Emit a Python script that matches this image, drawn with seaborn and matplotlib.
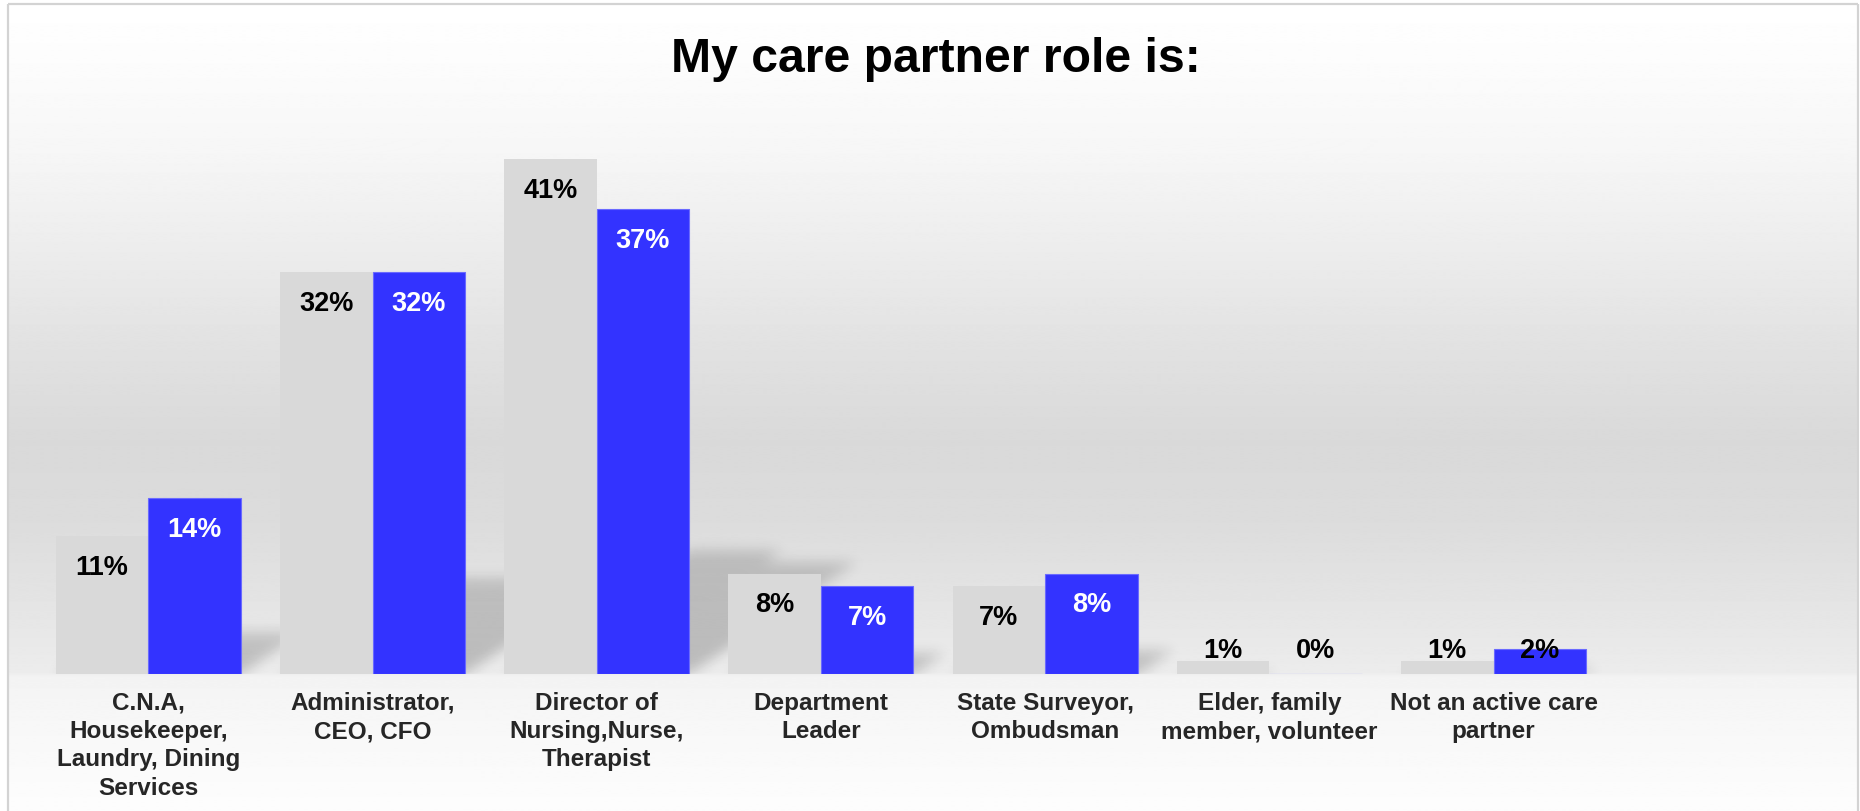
import numpy as np
import pandas as pd
import matplotlib
matplotlib.use("Agg")
import matplotlib.pyplot as plt
import seaborn as sns

# ---- data -------------------------------------------------------------
title = "My care partner role is:"
categories = [
    "C.N.A,\nHousekeeper,\nLaundry, Dining\nServices",
    "Administrator,\nCEO, CFO",
    "Director of\nNursing,Nurse,\nTherapist",
    "Department\nLeader",
    "State Surveyor,\nOmbudsman",
    "Elder, family\nmember, volunteer",
    "Not an active care\npartner",
]
series_names = ["Series 1", "Series 2"]
series1_pct = [11, 32, 41, 8, 7, 1, 1]
series2_pct = [14, 32, 37, 7, 8, 0, 2]
value_labels1 = ["11%", "32%", "41%", "8%", "7%", "1%", "1%"]
value_labels2 = ["14%", "32%", "37%", "7%", "8%", "0%", "2%"]

# ---- style ------------------------------------------------------------
sns.set_style("white")
plt.rcParams["font.family"] = ["Liberation Sans", "DejaVu Sans"]

GREY = "#d9d9d9"
BLUE = "#3333ff"
W, H = 1860, 812
BASE_PX = 675            # baseline row in figure pixels (from top)
PX_PER_PCT = 12.56       # vertical pixels per percentage point
C0_PX, PITCH_PX = 148.3, 224.2

df = pd.DataFrame({
    "role": categories * 2,
    "series": [series_names[0]] * len(categories) + [series_names[1]] * len(categories),
    "pct": series1_pct + series2_pct,
})

fig = plt.figure(figsize=(W / 100, H / 100), dpi=100)

# ---- background: framed vertical gradient ------------------------------
bg = fig.add_axes([0, 0, 1, 1])
bg.set_zorder(0)
bg.set_xlim(0, W)
bg.set_ylim(H, 0)
bg.axis("off")
rows = np.arange(H)
stops_y = [0, 60, 150, 250, 350, 440, 520, 600, 672, 677, 720, 812]
stops_v = [255, 252, 246, 236, 225, 217, 220, 228, 236, 243, 247, 253]
grad = np.interp(rows, stops_y, stops_v) / 255.0
img = np.repeat(grad[:, None], 2, axis=1)
bg.imshow(img, cmap="gray", vmin=0, vmax=1, extent=(8, 1858, H, 5),
          aspect="auto", interpolation="bilinear")
for xs, ys in [((8, 8), (5, H)), ((8, 1858), (5, 5)), ((1858, 1858), (5, H))]:
    bg.plot(xs, ys, color="#d3d3d3", lw=1.6, solid_capstyle="butt")

# ---- main bar axes ----------------------------------------------------
ax = fig.add_axes([0, (H - BASE_PX) / H, 1, BASE_PX / H])
ax.set_zorder(1)
ax.patch.set_visible(False)

sns.barplot(data=df, x="role", y="pct", hue="series", order=categories,
            hue_order=series_names, palette=[GREY, BLUE], width=0.825,
            saturation=1, legend=False, ax=ax, zorder=2)

x_left = (0 - C0_PX) / PITCH_PX
x_right = (W - C0_PX) / PITCH_PX
y_top = BASE_PX / PX_PER_PCT
ax.set_xlim(x_left, x_right)
ax.set_ylim(0, y_top)

for bar in ax.containers[0]:
    bar.set_linewidth(0)
for bar in ax.containers[1]:
    bar.set_edgecolor("#6a6aff")
    bar.set_linewidth(0.8)

# ---- soft perspective shadows cast by the bars --------------------------
nx, ny = W, BASE_PX
xs = x_left + (np.arange(nx) + 0.5) * (x_right - x_left) / nx
ys = (np.arange(ny) + 0.5) * y_top / ny
X, Y = np.meshgrid(xs, ys)
mask = np.zeros((ny, nx))
for cont in ax.containers:
    for bar in cont:
        h = bar.get_height()
        if h <= 0:
            continue
        x0 = bar.get_x()
        x1 = x0 + bar.get_width()
        top = 0.24 * h
        shift = 0.0201 * h
        t = np.clip(Y / top, 0, None)
        inside = (Y <= top) & (X >= x0 + shift * t) & (X <= x1 + shift * t)
        mask[inside] = np.maximum(mask[inside], 1.0 - 0.25 * t[inside])


def blur(a, sigma):
    r = int(3 * sigma)
    k = np.exp(-0.5 * (np.arange(-r, r + 1) / sigma) ** 2)
    k /= k.sum()
    a = np.apply_along_axis(lambda m: np.convolve(m, k, mode="same"), 0, a)
    a = np.apply_along_axis(lambda m: np.convolve(m, k, mode="same"), 1, a)
    return a


mask = blur(mask, 6.5)
shadow = np.zeros((ny, nx, 4))
shadow[..., 3] = 0.21 * mask
ax.imshow(shadow, origin="lower", extent=(x_left, x_right, 0, y_top),
          aspect="auto", interpolation="bilinear", zorder=1)

# ---- value labels -----------------------------------------------------
for cont, labels, is_blue in [(ax.containers[0], value_labels1, False),
                              (ax.containers[1], value_labels2, True)]:
    for bar, lab in zip(cont, labels):
        v = bar.get_height()
        xc = bar.get_x() + bar.get_width() / 2
        y_in = v - 3.0
        inside = y_in >= 1.35
        y = y_in if inside else 1.35
        color = "white" if (is_blue and inside) else "black"
        ax.text(xc, y, lab, ha="center", va="baseline", fontsize=19.5,
                fontweight="bold", color=color, zorder=4)

# ---- axes cosmetics ---------------------------------------------------
ax.set_xticks(range(len(categories)))
ax.set_xticklabels(categories, fontsize=17.5, fontweight="bold", linespacing=1.3)
ax.tick_params(axis="x", length=0, pad=12)
ax.set_yticks([])
ax.set_xlabel("")
ax.set_ylabel("")
for s in ax.spines.values():
    s.set_visible(False)

fig.text(936 / W, 1 - 72 / H, title, ha="center", va="baseline",
         fontsize=34.7, fontweight="bold", color="black")

fig.savefig("out.png", dpi=100)
